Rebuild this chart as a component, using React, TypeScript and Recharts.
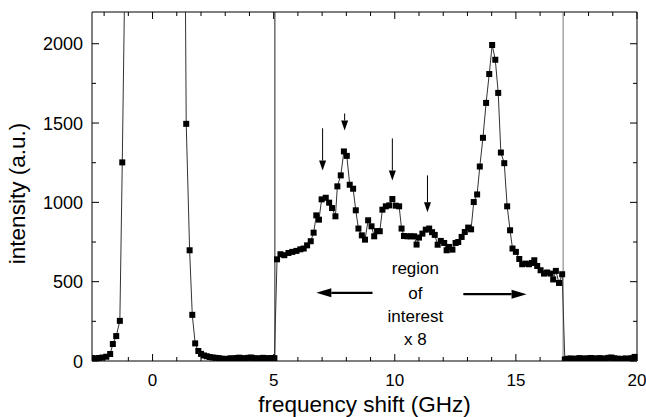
import React from 'react';
import { LineChart, Line, XAxis, YAxis, ReferenceLine, ReferenceDot } from 'recharts';

const FONT = '"Liberation Sans", Arial, Helvetica, sans-serif';

// anti-Stokes wing, Rayleigh peak (off scale) and Stokes wing
const freqLeft = [-2.5, -2.36, -2.21, -2.07, -1.91, -1.75, -1.64, -1.5, -1.35, -1.25, -1.13, -0.9, 0, 0.9, 1.27, 1.39, 1.53, 1.64, 1.76, 1.89, 2.0, 2.12, 2.24, 2.36, 2.48, 2.6, 2.73, 2.85, 2.97, 3.1, 3.22, 3.34, 3.46, 3.58, 3.7, 3.82, 3.95, 4.07, 4.19, 4.31, 4.43, 4.56, 4.68, 4.8, 4.92, 5.03];
const intensityLeft = [18, 17, 19, 22, 27, 44, 107, 157, 253, 1252, 2600, 12000, 60000, 12000, 4300, 1495, 698, 291, 111, 63, 45, 35, 30, 25, 22, 20, 18, 15, 12, 14, 17, 15, 19, 21, 18, 16, 20, 22, 18, 15, 17, 20, 18, 16, 19, 18];

// region of interest (x 8)
const freqRegion = [5.14, 5.28, 5.44, 5.61, 5.77, 5.94, 6.1, 6.24, 6.38, 6.53, 6.65, 6.76, 6.87, 6.98, 7.15, 7.29, 7.41, 7.55, 7.63, 7.77, 7.9, 8.02, 8.14, 8.28, 8.39, 8.5, 8.64, 8.77, 8.9, 9.04, 9.15, 9.27, 9.38, 9.49, 9.63, 9.77, 9.9, 10.04, 10.18, 10.28, 10.38, 10.52, 10.66, 10.8, 10.9, 11.0, 11.14, 11.28, 11.42, 11.54, 11.65, 11.77, 11.9, 12.04, 12.14, 12.24, 12.38, 12.51, 12.62, 12.76, 12.89, 13.03, 13.15, 13.26, 13.4, 13.51, 13.64, 13.77, 13.9, 14.02, 14.15, 14.27, 14.38, 14.52, 14.64, 14.76, 14.86, 15.0, 15.14, 15.26, 15.4, 15.54, 15.66, 15.76, 15.88, 16.02, 16.16, 16.29, 16.43, 16.54, 16.65, 16.78, 16.91];
const intensityRegion = [641, 673, 667, 681, 688, 694, 704, 709, 729, 755, 809, 918, 891, 1019, 1029, 998, 964, 912, 1101, 1170, 1321, 1293, 1111, 1086, 950, 835, 792, 765, 887, 849, 786, 819, 818, 954, 975, 981, 1021, 979, 975, 835, 788, 786, 786, 786, 734, 778, 803, 828, 835, 812, 795, 733, 757, 744, 698, 719, 702, 744, 750, 782, 813, 841, 830, 1002, 1050, 1226, 1407, 1627, 1809, 1992, 1899, 1690, 1314, 1247, 975, 824, 709, 688, 643, 610, 614, 610, 618, 635, 599, 572, 551, 558, 551, 514, 568, 492, 547];

// high-frequency background
const freqRight = [17.02, 17.14, 17.26, 17.38, 17.5, 17.62, 17.74, 17.86, 17.98, 18.1, 18.22, 18.34, 18.46, 18.58, 18.7, 18.82, 18.94, 19.06, 19.18, 19.3, 19.42, 19.54, 19.66, 19.78, 19.9, 20.0];
const intensityRight = [10, 14, 16, 13, 15, 18, 16, 14, 17, 19, 16, 15, 18, 16, 14, 20, 22, 17, 15, 12, 14, 16, 13, 18, 26, 22];

const X_MIN = -2.5;
const X_MAX = 20;
const Y_MIN = 0;
const Y_MAX = 2200;

const xTicks = [-2, -1, 0, 1, 2, 3, 4, 5, 6, 7, 8, 9, 10, 11, 12, 13, 14, 15, 16, 17, 18, 19, 20];
const xMajor = [0, 5, 10, 15, 20];
const yTicks = [0, 250, 500, 750, 1000, 1250, 1500, 1750, 2000];
const yMajor = [0, 500, 1000, 1500, 2000];

const regionBounds = [5.05, 16.95];

// peak marker arrows: frequency, start intensity, tip intensity
const arrowFreq = [7.02, 7.93, 9.9, 11.35];
const arrowFrom = [1467, 1560, 1403, 1170];
const arrowTo = [1201, 1453, 1138, 937];

const regionText = ['region', 'of', 'interest', 'x 8'];
const regionTextY = [585, 428, 283, 138];
const regionTextX = 10.85;

const zip = (xs: number[], ys: number[]) => xs.map((f, i) => ({ freq: f, intensity: ys[i] }));
const data = [
  ...zip(freqLeft, intensityLeft),
  ...zip(freqRegion, intensityRegion),
  ...zip(freqRight, intensityRight),
];

const BottomLabel = (p: any) => {
  if (!xMajor.includes(p.payload.value)) return <g />;
  return (
    <text x={p.x} y={p.y + 25} textAnchor="middle" fontSize={17} fontFamily={FONT} fill="#000">
      {p.payload.value}
    </text>
  );
};
const LeftLabel = (p: any) => {
  if (!yMajor.includes(p.payload.value)) return <g />;
  return (
    <text x={p.x - 9} y={p.y + 6.5} textAnchor="end" fontSize={18} fontFamily={FONT} fill="#000">
      {p.payload.value}
    </text>
  );
};

const tickMark = (dx: number, dy: number) => (p: any) => (
  <line x1={p.x1} y1={p.y1} x2={p.x1 + dx} y2={p.y1 + dy} stroke="#000" strokeWidth={1} />
);

const SquareDot = (p: any) => {
  if (p.cx == null || p.cy == null) return <g key={p.index} />;
  return <rect key={p.index} x={p.cx - 3} y={p.cy - 3} width={6} height={6} fill="#000" />;
};

const makeArrow = (width: number, headLen: number, headHalf: number) => (p: any) => {
  const { x1, y1, x2, y2 } = p;
  const dx = x2 - x1;
  const dy = y2 - y1;
  const L = Math.hypot(dx, dy) || 1;
  const ux = dx / L;
  const uy = dy / L;
  const bx = x2 - ux * headLen;
  const by = y2 - uy * headLen;
  const px = -uy;
  const py = ux;
  return (
    <g>
      <line x1={x1} y1={y1} x2={bx} y2={by} stroke="#000" strokeWidth={width} />
      <polygon
        points={`${x2},${y2} ${bx + px * headHalf},${by + py * headHalf} ${bx - px * headHalf},${by - py * headHalf}`}
        fill="#000"
      />
    </g>
  );
};

const thinArrow = makeArrow(1, 10, 3.5);
const thickArrow = makeArrow(2.2, 15, 4.5);

const XTitle = (props: any) => {
  const vb = props.viewBox || { x: 92, y: 361, width: 545, height: 56 };
  return (
    <text x={vb.x + vb.width / 2} y={412} textAnchor="middle" fontSize={22.5} fontFamily={FONT} fill="#000">
      frequency shift (GHz)
    </text>
  );
};
const YTitle = (props: any) => {
  const vb = props.viewBox || { x: 0, y: 12, width: 92, height: 349 };
  const cx = vb.x + 25;
  const cy = vb.y + vb.height / 2 + 7;
  return (
    <text
      x={cx}
      y={cy}
      transform={`rotate(-90, ${cx}, ${cy})`}
      textAnchor="middle"
      fontSize={22.5}
      fontFamily={FONT}
      fill="#000"
    >
      intensity (a.u.)
    </text>
  );
};

export default function App() {
  return (
    <div style={{ position: 'absolute', left: 0, top: 0, width: 646, height: 417, background: '#fff' }}>
      <LineChart width={646} height={417} data={data} margin={{ top: 12, right: 9, bottom: 0, left: 0 }}>
        <XAxis
          dataKey="freq"
          type="number"
          domain={[X_MIN, X_MAX]}
          allowDataOverflow
          ticks={xTicks}
          interval={0}
          tickLine={false}
          tickSize={0}
          tickMargin={0}
          tick={BottomLabel}
          axisLine={{ stroke: '#000' }}
          height={56}
          label={{ value: 'frequency shift (GHz)', content: XTitle }}
        />
        <YAxis
          type="number"
          domain={[Y_MIN, Y_MAX]}
          allowDataOverflow
          ticks={yTicks}
          interval={0}
          tickLine={false}
          tickSize={0}
          tickMargin={0}
          tick={LeftLabel}
          axisLine={{ stroke: '#000' }}
          width={92}
          label={{ value: 'intensity (a.u.)', content: YTitle }}
        />
        {/* frame top and right */}
        <ReferenceLine y={Y_MAX} stroke="#000" strokeWidth={1} />
        <ReferenceLine x={X_MAX} stroke="#000" strokeWidth={1} />
        {/* inward tick marks on all four sides */}
        {xTicks.map((t) => {
          const len = xMajor.includes(t) ? 7 : 4;
          return (
            <React.Fragment key={`xt${t}`}>
              <ReferenceLine segment={[{ x: t, y: Y_MIN }, { x: t, y: Y_MIN }]} shape={tickMark(0, -len)} />
              <ReferenceLine segment={[{ x: t, y: Y_MAX }, { x: t, y: Y_MAX }]} shape={tickMark(0, len)} />
            </React.Fragment>
          );
        })}
        {yTicks.map((t) => {
          const len = yMajor.includes(t) ? 7 : 4;
          return (
            <React.Fragment key={`yt${t}`}>
              <ReferenceLine segment={[{ x: X_MIN, y: t }, { x: X_MIN, y: t }]} shape={tickMark(len, 0)} />
              <ReferenceLine segment={[{ x: X_MAX, y: t }, { x: X_MAX, y: t }]} shape={tickMark(-len, 0)} />
            </React.Fragment>
          );
        })}
        {regionBounds.map((b, i) => (
          <ReferenceLine key={`b${i}`} x={b} stroke={i === 0 ? '#222' : '#777'} strokeWidth={1} />
        ))}
        <Line
          dataKey="intensity"
          type="linear"
          stroke="#333"
          strokeWidth={1}
          dot={SquareDot}
          activeDot={false}
          isAnimationActive={false}
        />
        {arrowFreq.map((f, i) => (
          <ReferenceLine
            key={`a${i}`}
            segment={[
              { x: f, y: arrowFrom[i] },
              { x: f, y: arrowTo[i] },
            ]}
            shape={thinArrow}
          />
        ))}
        <ReferenceLine segment={[{ x: 9.08, y: 430 }, { x: 6.76, y: 430 }]} shape={thickArrow} />
        <ReferenceLine segment={[{ x: 12.83, y: 421 }, { x: 15.44, y: 421 }]} shape={thickArrow} />
        {regionText.map((t, i) => (
          <ReferenceDot
            key={`t${i}`}
            x={regionTextX}
            y={regionTextY[i]}
            r={1}
            shape={(p: any) => (
              <text
                x={p.cx}
                y={p.cy}
                textAnchor="middle"
                dominantBaseline="central"
                fontSize={17}
                fontFamily={FONT}
                fill="#000"
              >
                {t}
              </text>
            )}
          />
        ))}
      </LineChart>
    </div>
  );
}
